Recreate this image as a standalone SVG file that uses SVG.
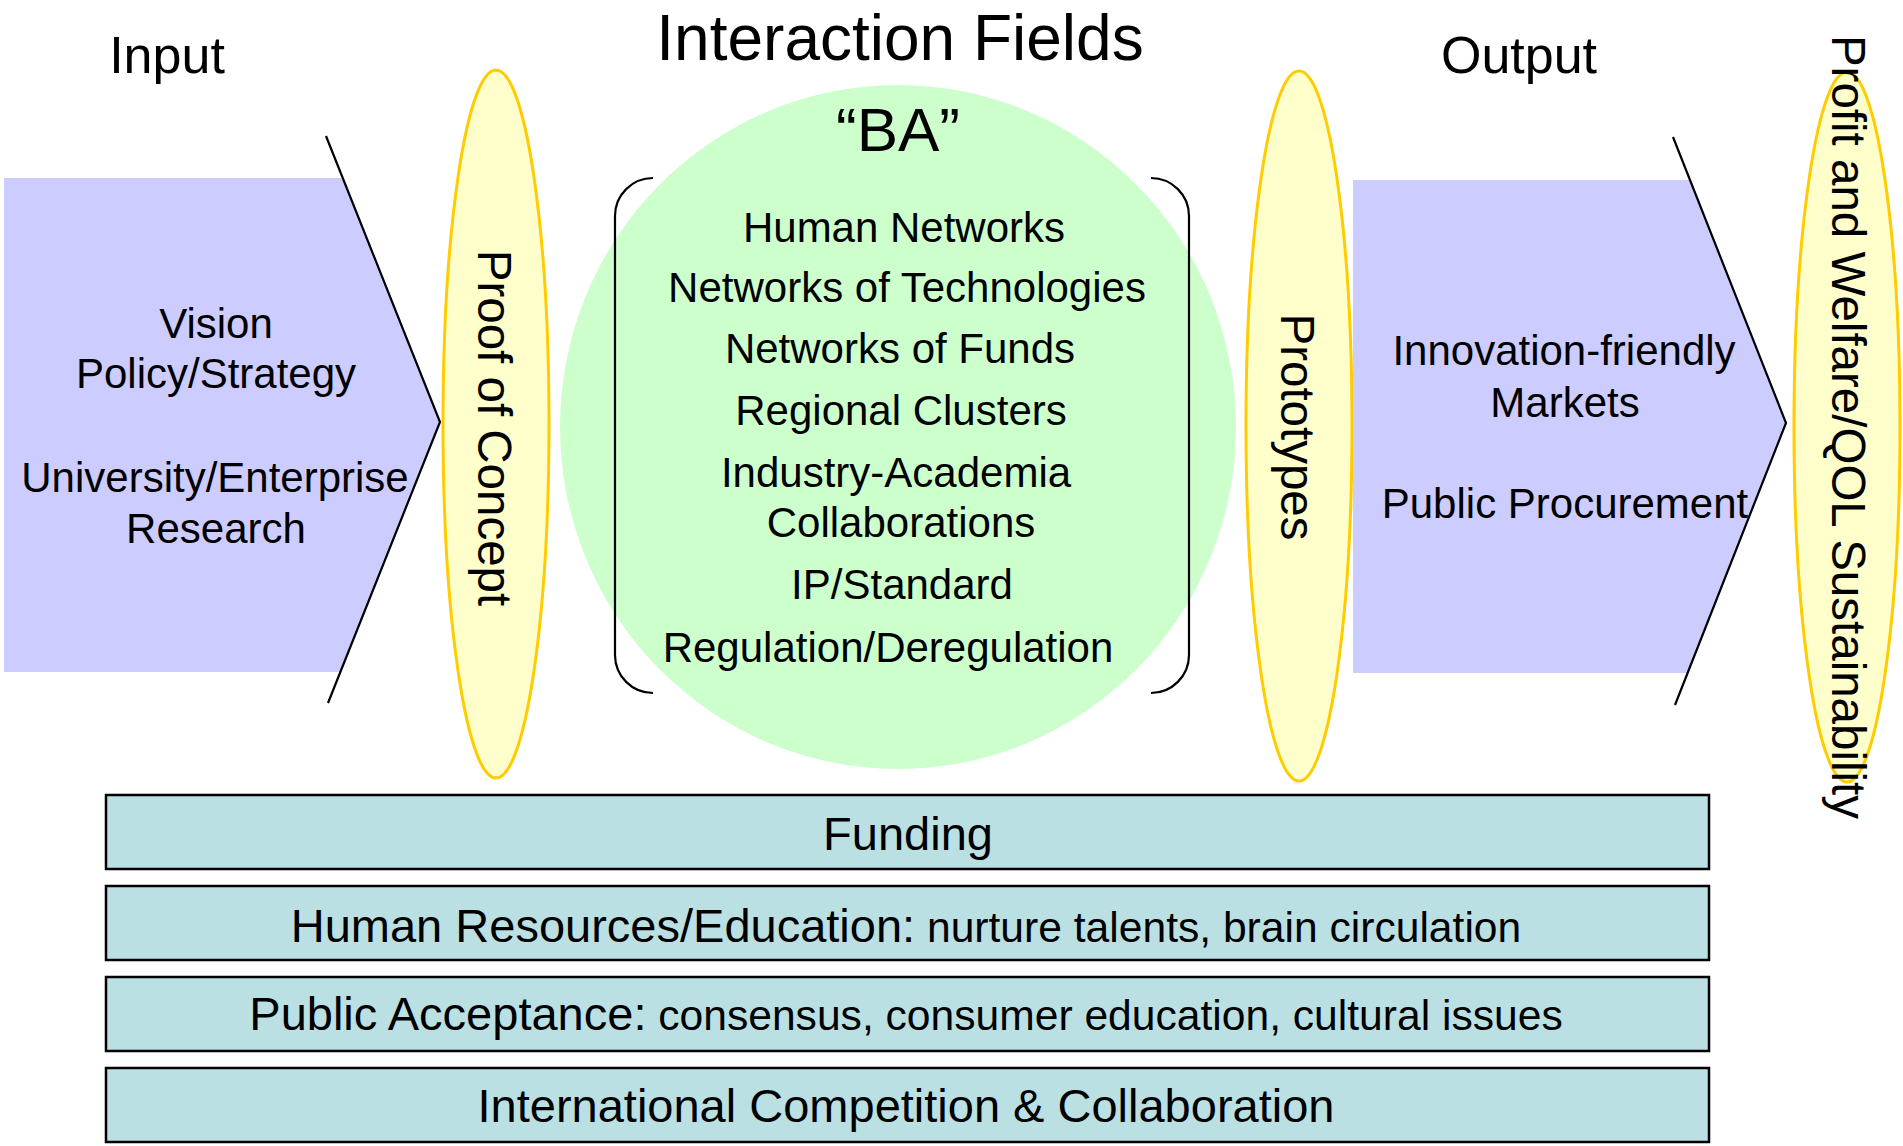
<svg xmlns="http://www.w3.org/2000/svg" width="1903" height="1146" viewBox="0 0 1903 1146">
<style>
text{font-family:"Liberation Sans",Arial,sans-serif;fill:#000}
.title{font-size:52px}
.big{font-size:64px}
.ba{font-size:62px}
.item{font-size:42px}
.side{font-size:42px}
.rot{font-size:47.5px}
.bar{fill:#BBE0E3;stroke:#000;stroke-width:2.5}
.barT{font-size:47px}
.small{font-size:42.6px}
.ell{fill:#FFFFCC;stroke:#FFCC00;stroke-width:3}
.arrowFill{fill:#CCCCFF}
.chev{fill:none;stroke:#000;stroke-width:2.2}
.brk{fill:none;stroke:#000;stroke-width:2.2}
</style>
<rect width="1903" height="1146" fill="#fff"/>

<g id="headings">
<text class="title" x="167" y="73" text-anchor="middle">Input</text>
<text class="big" x="900" y="60" text-anchor="middle">Interaction Fields</text>
<text class="title" x="1519" y="73" text-anchor="middle">Output</text>
</g>

<g id="input-arrow">
<polygon class="arrowFill" points="4,178 343,178 440,422 340,672 4,672"/>
<polyline class="chev" points="326,136 440,422 328,703"/>
<text class="side" x="216" y="338" text-anchor="middle">Vision</text>
<text class="side" x="216" y="388" text-anchor="middle">Policy/Strategy</text>
<text class="side" x="215" y="492" text-anchor="middle">University/Enterprise</text>
<text class="side" x="216" y="543" text-anchor="middle">Research</text>
</g>

<g id="proof-of-concept">
<ellipse class="ell" cx="496" cy="424" rx="53" ry="354"/>
<text class="rot" transform="translate(478,428) rotate(90)" text-anchor="middle">Proof of Concept</text>
</g>

<g id="ba">
<ellipse cx="898" cy="427" rx="338" ry="342" fill="#CCFFCC"/>
<text class="ba" x="898" y="151" text-anchor="middle">“BA”</text>
<path class="brk" d="M653,178 A38,38 0 0 0 615,216 L615,655 A38,38 0 0 0 653,693"/>
<path class="brk" d="M1151,178 A38,38 0 0 1 1189,216 L1189,655 A38,38 0 0 1 1151,693"/>
<text class="item" x="904" y="242" text-anchor="middle">Human Networks</text>
<text class="item" x="907" y="302" text-anchor="middle">Networks of Technologies</text>
<text class="item" x="900" y="363" text-anchor="middle">Networks of Funds</text>
<text class="item" x="901" y="425" text-anchor="middle">Regional Clusters</text>
<text class="item" x="896" y="487" text-anchor="middle">Industry-Academia</text>
<text class="item" x="901" y="537" text-anchor="middle">Collaborations</text>
<text class="item" x="902" y="599" text-anchor="middle">IP/Standard</text>
<text class="item" x="888" y="662" text-anchor="middle">Regulation/Deregulation</text>
</g>

<g id="prototypes">
<ellipse class="ell" cx="1299" cy="426" rx="53" ry="355"/>
<text class="rot" transform="translate(1281,427) rotate(90)" text-anchor="middle">Prototypes</text>
</g>

<g id="output-arrow">
<polygon class="arrowFill" points="1353,180 1690,180 1786,423 1688,673 1353,673"/>
<polyline class="chev" points="1673,137 1786,423 1675,705"/>
<text class="side" x="1564" y="365" text-anchor="middle">Innovation-friendly</text>
<text class="side" x="1565" y="417" text-anchor="middle">Markets</text>
<text class="side" x="1565" y="518" text-anchor="middle">Public Procurement</text>
</g>

<g id="profit">
<ellipse class="ell" cx="1847" cy="427" rx="53" ry="355"/>
<text class="rot" transform="translate(1832,427) rotate(90)" text-anchor="middle">Profit and Welfare/QOL Sustainability</text>
</g>

<g id="funding">
<rect class="bar" x="106" y="795" width="1603" height="74"/>
<text class="barT" x="908" y="850" text-anchor="middle">Funding</text>
</g>
<g id="human-resources">
<rect class="bar" x="106" y="886" width="1603" height="74"/>
<text class="barT" x="906" y="942" text-anchor="middle">Human Resources/Education:<tspan class="small"> nurture talents, brain circulation</tspan></text>
</g>
<g id="public-acceptance">
<rect class="bar" x="106" y="977" width="1603" height="74"/>
<text class="barT" x="906" y="1030" text-anchor="middle">Public Acceptance:<tspan class="small"> consensus, consumer education, cultural issues</tspan></text>
</g>
<g id="international">
<rect class="bar" x="106" y="1068" width="1603" height="74"/>
<text class="barT" x="906" y="1122" text-anchor="middle">International Competition &amp; Collaboration</text>
</g>
<g id="connectors"></g>
</svg>
